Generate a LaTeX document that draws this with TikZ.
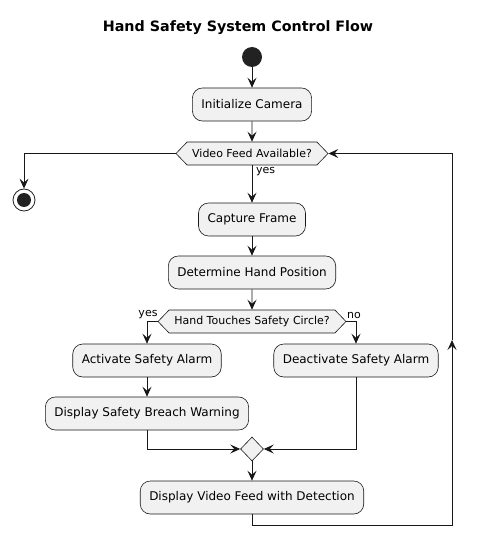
\documentclass[tikz,border=0pt]{standalone}
\usepackage{fontspec}
\setmainfont{DejaVu Sans}
\usetikzlibrary{shapes.symbols,shapes.geometric,arrows.meta}
\definecolor{boxfill}{HTML}{F1F1F1}
\definecolor{line}{HTML}{181818}
\definecolor{dot}{HTML}{222222}
\tikzset{
  act/.style={draw=line, fill=boxfill, rounded corners=10pt, line width=0.6pt,
    minimum height=33pt, inner xsep=9pt, inner ysep=0pt, font=\fontsize{12pt}{14pt}\selectfont},
  hexa/.style={draw=line, fill=boxfill, shape=signal, signal to=west and east,
    signal pointer angle=92, line width=0.6pt, minimum height=23pt, inner sep=0pt,
    font=\fontsize{11pt}{13pt}\selectfont},
  lbl/.style={inner sep=0pt, font=\fontsize{11pt}{13pt}\selectfont},
  flow/.style={draw=line, line width=0.8pt, -{Stealth[length=10pt,width=9pt,inset=4pt]}},
  plain/.style={draw=line, line width=0.8pt}
}
\begin{document}
\begin{tikzpicture}[x=1pt,y=-1pt]
\useasboundingbox (0,0) rectangle (477,548);
\node[font=\bfseries\fontsize{14.3pt}{16pt}\selectfont] (title) at (238,28) {Hand Safety System Control Flow};
\node[circle, fill=dot, minimum size=20pt, inner sep=0pt] (start) at (252,57) {};
\node[act] (init) at (252,104.5) {Initialize Camera};
\node[hexa, minimum width=152pt] (d1) at (252,153.5) {Video Feed Available?};
\node[circle, draw=dot, line width=0.8pt, fill=white, minimum size=22pt, inner sep=0pt] (stop) at (24,200) {};
\node[circle, fill=dot, minimum size=14pt, inner sep=0pt] (stopin) at (stop) {};
\node[act] (cap) at (252,219.5) {Capture Frame};
\node[act] (hand) at (252,272.5) {Determine Hand Position};
\node[hexa, minimum width=188pt] (d2) at (252,321.5) {Hand Touches Safety Circle?};
\node[act] (alarm) at (147,360.5) {Activate Safety Alarm};
\node[act] (warn) at (147,413.5) {Display Safety Breach Warning};
\node[act] (deact) at (356,360.5) {Deactivate Safety Alarm};
\node[diamond, draw=line, fill=boxfill, line width=0.6pt, minimum width=23pt, minimum height=24pt, inner sep=0pt] (merge) at (252,449) {};
\node[act] (video) at (252,497.5) {Display Video Feed with Detection};
\node[lbl, anchor=west] (yes1) at (256,172) {yes};
\node[lbl] (yes2) at (148,315) {yes};
\node[lbl] (no2) at (354,315) {no};
\coordinate (c1) at (252,525);
\coordinate (c2) at (452,525);
\coordinate (c3) at (452,340);
\coordinate (c4) at (452,153.5);

\draw[flow] (start) -- (init);
\draw[flow] (init) -- (d1);
\draw[flow] (d1.west) -| (stop.north);
\draw[flow] (d1.south) -- (cap.north);
\draw[flow] (cap) -- (hand);
\draw[flow] (hand) -- (d2);
\draw[flow] (d2.west) -| (alarm.north);
\draw[flow] (d2.east) -| (deact.north);
\draw[flow] (alarm) -- (warn);
\draw[flow] (warn.south) |- (merge.west);
\draw[flow] (deact.south) |- (merge.east);
\draw[flow] (merge.south) -- (video.north);
\draw[flow] (video.south) -- (c1) -- (c2) -- (c3);
\draw[flow] (c3) -- (c4) -- (d1.east);
\end{tikzpicture}
\end{document}
